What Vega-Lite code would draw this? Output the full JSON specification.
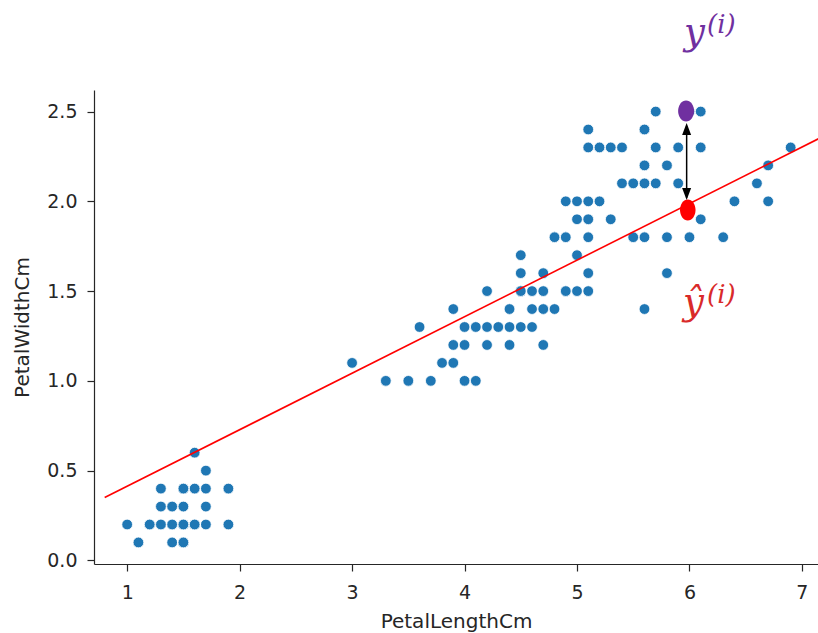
{
  "$schema": "https://vega.github.io/schema/vega-lite/v6.json",
  "width": 724,
  "height": 474,
  "autosize": {"type": "none"},
  "padding": {"left": 94, "top": 90, "right": 0, "bottom": 69},
  "background": "white",
  "config": {
    "view": {"stroke": null},
    "axis": {
      "labelFont": "DejaVu Sans",
      "titleFont": "DejaVu Sans",
      "labelFontSize": 19,
      "titleFontSize": 20,
      "titleFontWeight": "normal",
      "labelColor": "#262626",
      "titleColor": "#262626",
      "domainColor": "#262626",
      "tickColor": "#262626",
      "domainWidth": 1.2,
      "tickWidth": 1.2,
      "tickSize": 7,
      "grid": false
    }
  },
  "datasets": {
    "iris": [
      {"PetalLengthCm":1.4,"PetalWidthCm":0.2},{"PetalLengthCm":1.4,"PetalWidthCm":0.2},{"PetalLengthCm":1.3,"PetalWidthCm":0.2},{"PetalLengthCm":1.5,"PetalWidthCm":0.2},{"PetalLengthCm":1.4,"PetalWidthCm":0.2},
      {"PetalLengthCm":1.7,"PetalWidthCm":0.4},{"PetalLengthCm":1.4,"PetalWidthCm":0.3},{"PetalLengthCm":1.5,"PetalWidthCm":0.2},{"PetalLengthCm":1.4,"PetalWidthCm":0.2},{"PetalLengthCm":1.5,"PetalWidthCm":0.1},
      {"PetalLengthCm":1.5,"PetalWidthCm":0.2},{"PetalLengthCm":1.6,"PetalWidthCm":0.2},{"PetalLengthCm":1.4,"PetalWidthCm":0.1},{"PetalLengthCm":1.1,"PetalWidthCm":0.1},{"PetalLengthCm":1.2,"PetalWidthCm":0.2},
      {"PetalLengthCm":1.5,"PetalWidthCm":0.4},{"PetalLengthCm":1.3,"PetalWidthCm":0.4},{"PetalLengthCm":1.4,"PetalWidthCm":0.3},{"PetalLengthCm":1.7,"PetalWidthCm":0.3},{"PetalLengthCm":1.5,"PetalWidthCm":0.3},
      {"PetalLengthCm":1.7,"PetalWidthCm":0.2},{"PetalLengthCm":1.5,"PetalWidthCm":0.4},{"PetalLengthCm":1.0,"PetalWidthCm":0.2},{"PetalLengthCm":1.7,"PetalWidthCm":0.5},{"PetalLengthCm":1.9,"PetalWidthCm":0.2},
      {"PetalLengthCm":1.6,"PetalWidthCm":0.2},{"PetalLengthCm":1.6,"PetalWidthCm":0.4},{"PetalLengthCm":1.5,"PetalWidthCm":0.2},{"PetalLengthCm":1.4,"PetalWidthCm":0.2},{"PetalLengthCm":1.6,"PetalWidthCm":0.2},
      {"PetalLengthCm":1.6,"PetalWidthCm":0.2},{"PetalLengthCm":1.5,"PetalWidthCm":0.4},{"PetalLengthCm":1.5,"PetalWidthCm":0.1},{"PetalLengthCm":1.4,"PetalWidthCm":0.2},{"PetalLengthCm":1.5,"PetalWidthCm":0.1},
      {"PetalLengthCm":1.2,"PetalWidthCm":0.2},{"PetalLengthCm":1.3,"PetalWidthCm":0.2},{"PetalLengthCm":1.5,"PetalWidthCm":0.1},{"PetalLengthCm":1.3,"PetalWidthCm":0.2},{"PetalLengthCm":1.5,"PetalWidthCm":0.2},
      {"PetalLengthCm":1.3,"PetalWidthCm":0.3},{"PetalLengthCm":1.3,"PetalWidthCm":0.3},{"PetalLengthCm":1.3,"PetalWidthCm":0.2},{"PetalLengthCm":1.6,"PetalWidthCm":0.6},{"PetalLengthCm":1.9,"PetalWidthCm":0.4},
      {"PetalLengthCm":1.4,"PetalWidthCm":0.3},{"PetalLengthCm":1.6,"PetalWidthCm":0.2},{"PetalLengthCm":1.4,"PetalWidthCm":0.2},{"PetalLengthCm":1.5,"PetalWidthCm":0.2},{"PetalLengthCm":1.4,"PetalWidthCm":0.2},
      {"PetalLengthCm":4.7,"PetalWidthCm":1.4},{"PetalLengthCm":4.5,"PetalWidthCm":1.5},{"PetalLengthCm":4.9,"PetalWidthCm":1.5},{"PetalLengthCm":4.0,"PetalWidthCm":1.3},{"PetalLengthCm":4.6,"PetalWidthCm":1.5},
      {"PetalLengthCm":4.5,"PetalWidthCm":1.3},{"PetalLengthCm":4.7,"PetalWidthCm":1.6},{"PetalLengthCm":3.3,"PetalWidthCm":1.0},{"PetalLengthCm":4.6,"PetalWidthCm":1.3},{"PetalLengthCm":3.9,"PetalWidthCm":1.4},
      {"PetalLengthCm":3.5,"PetalWidthCm":1.0},{"PetalLengthCm":4.2,"PetalWidthCm":1.5},{"PetalLengthCm":4.0,"PetalWidthCm":1.0},{"PetalLengthCm":4.7,"PetalWidthCm":1.4},{"PetalLengthCm":3.6,"PetalWidthCm":1.3},
      {"PetalLengthCm":4.4,"PetalWidthCm":1.4},{"PetalLengthCm":4.5,"PetalWidthCm":1.5},{"PetalLengthCm":4.1,"PetalWidthCm":1.0},{"PetalLengthCm":4.5,"PetalWidthCm":1.5},{"PetalLengthCm":3.9,"PetalWidthCm":1.1},
      {"PetalLengthCm":4.8,"PetalWidthCm":1.8},{"PetalLengthCm":4.0,"PetalWidthCm":1.3},{"PetalLengthCm":4.9,"PetalWidthCm":1.5},{"PetalLengthCm":4.7,"PetalWidthCm":1.2},{"PetalLengthCm":4.3,"PetalWidthCm":1.3},
      {"PetalLengthCm":4.4,"PetalWidthCm":1.4},{"PetalLengthCm":4.8,"PetalWidthCm":1.4},{"PetalLengthCm":5.0,"PetalWidthCm":1.7},{"PetalLengthCm":4.5,"PetalWidthCm":1.5},{"PetalLengthCm":3.5,"PetalWidthCm":1.0},
      {"PetalLengthCm":3.8,"PetalWidthCm":1.1},{"PetalLengthCm":3.7,"PetalWidthCm":1.0},{"PetalLengthCm":3.9,"PetalWidthCm":1.2},{"PetalLengthCm":5.1,"PetalWidthCm":1.6},{"PetalLengthCm":4.5,"PetalWidthCm":1.5},
      {"PetalLengthCm":4.5,"PetalWidthCm":1.6},{"PetalLengthCm":4.7,"PetalWidthCm":1.5},{"PetalLengthCm":4.4,"PetalWidthCm":1.3},{"PetalLengthCm":4.1,"PetalWidthCm":1.3},{"PetalLengthCm":4.0,"PetalWidthCm":1.3},
      {"PetalLengthCm":4.4,"PetalWidthCm":1.2},{"PetalLengthCm":4.6,"PetalWidthCm":1.4},{"PetalLengthCm":4.0,"PetalWidthCm":1.2},{"PetalLengthCm":3.3,"PetalWidthCm":1.0},{"PetalLengthCm":4.2,"PetalWidthCm":1.3},
      {"PetalLengthCm":4.2,"PetalWidthCm":1.2},{"PetalLengthCm":4.2,"PetalWidthCm":1.3},{"PetalLengthCm":4.3,"PetalWidthCm":1.3},{"PetalLengthCm":3.0,"PetalWidthCm":1.1},{"PetalLengthCm":4.1,"PetalWidthCm":1.3},
      {"PetalLengthCm":6.0,"PetalWidthCm":2.5},{"PetalLengthCm":5.1,"PetalWidthCm":1.9},{"PetalLengthCm":5.9,"PetalWidthCm":2.1},{"PetalLengthCm":5.6,"PetalWidthCm":1.8},{"PetalLengthCm":5.8,"PetalWidthCm":2.2},
      {"PetalLengthCm":6.6,"PetalWidthCm":2.1},{"PetalLengthCm":4.5,"PetalWidthCm":1.7},{"PetalLengthCm":6.3,"PetalWidthCm":1.8},{"PetalLengthCm":5.8,"PetalWidthCm":1.8},{"PetalLengthCm":6.1,"PetalWidthCm":2.5},
      {"PetalLengthCm":5.1,"PetalWidthCm":2.0},{"PetalLengthCm":5.3,"PetalWidthCm":1.9},{"PetalLengthCm":5.5,"PetalWidthCm":2.1},{"PetalLengthCm":5.0,"PetalWidthCm":2.0},{"PetalLengthCm":5.1,"PetalWidthCm":2.4},
      {"PetalLengthCm":5.3,"PetalWidthCm":2.3},{"PetalLengthCm":5.5,"PetalWidthCm":1.8},{"PetalLengthCm":6.7,"PetalWidthCm":2.2},{"PetalLengthCm":6.9,"PetalWidthCm":2.3},{"PetalLengthCm":5.0,"PetalWidthCm":1.5},
      {"PetalLengthCm":5.7,"PetalWidthCm":2.3},{"PetalLengthCm":4.9,"PetalWidthCm":2.0},{"PetalLengthCm":6.7,"PetalWidthCm":2.0},{"PetalLengthCm":4.9,"PetalWidthCm":1.8},{"PetalLengthCm":5.7,"PetalWidthCm":2.1},
      {"PetalLengthCm":6.0,"PetalWidthCm":1.8},{"PetalLengthCm":4.8,"PetalWidthCm":1.8},{"PetalLengthCm":4.9,"PetalWidthCm":1.8},{"PetalLengthCm":5.6,"PetalWidthCm":2.1},{"PetalLengthCm":5.8,"PetalWidthCm":1.6},
      {"PetalLengthCm":6.1,"PetalWidthCm":1.9},{"PetalLengthCm":6.4,"PetalWidthCm":2.0},{"PetalLengthCm":5.6,"PetalWidthCm":2.2},{"PetalLengthCm":5.1,"PetalWidthCm":1.5},{"PetalLengthCm":5.6,"PetalWidthCm":1.4},
      {"PetalLengthCm":6.1,"PetalWidthCm":2.3},{"PetalLengthCm":5.6,"PetalWidthCm":2.4},{"PetalLengthCm":5.5,"PetalWidthCm":1.8},{"PetalLengthCm":4.8,"PetalWidthCm":1.8},{"PetalLengthCm":5.4,"PetalWidthCm":2.1},
      {"PetalLengthCm":5.6,"PetalWidthCm":2.4},{"PetalLengthCm":5.1,"PetalWidthCm":2.3},{"PetalLengthCm":5.1,"PetalWidthCm":1.9},{"PetalLengthCm":5.9,"PetalWidthCm":2.3},{"PetalLengthCm":5.7,"PetalWidthCm":2.5},
      {"PetalLengthCm":5.2,"PetalWidthCm":2.3},{"PetalLengthCm":5.0,"PetalWidthCm":1.9},{"PetalLengthCm":5.2,"PetalWidthCm":2.0},{"PetalLengthCm":5.4,"PetalWidthCm":2.3},{"PetalLengthCm":5.1,"PetalWidthCm":1.8}
    ]
  },
  "layer": [
    {
      "data": {"name": "iris"},
      "mark": {"type": "point", "filled": true, "color": "#1f77b4", "size": 115, "opacity": 1, "stroke": "white", "strokeWidth": 0.8},
      "encoding": {
        "x": {"field": "PetalLengthCm", "type": "quantitative", "scale": {"domain": [0.705, 7.143], "nice": false, "zero": false},
              "axis": {"title": "PetalLengthCm", "values": [1, 2, 3, 4, 5, 6, 7], "format": "d", "labelFlush": false, "labelPadding": 12, "titlePadding": 9}},
        "y": {"field": "PetalWidthCm", "type": "quantitative", "scale": {"domain": [-0.02, 2.62], "nice": false, "zero": false},
              "axis": {"title": "PetalWidthCm", "values": [0, 0.5, 1, 1.5, 2, 2.5], "format": ".1f", "labelFlush": false, "labelPadding": 10, "titlePadding": 14}}
      }
    },
    {
      "data": {"values": [{"PetalLengthCm": 0.8, "PetalWidthCm": 0.35}, {"PetalLengthCm": 7.2, "PetalWidthCm": 2.365}]},
      "mark": {"type": "line", "color": "#ff0000", "strokeWidth": 1.6, "clip": true},
      "encoding": {
        "x": {"field": "PetalLengthCm", "type": "quantitative"},
        "y": {"field": "PetalWidthCm", "type": "quantitative"}
      }
    },
    {
      "mark": {"type": "rule", "color": "#262626", "strokeWidth": 1.2},
      "encoding": {"y": {"datum": 2.62}}
    },
    {
      "data": {"values": [{"PetalLengthCm": 5.97, "PetalWidthCm": 2.503}]},
      "mark": {"type": "point", "filled": true, "color": "#7030a0", "opacity": 1, "size": 441,
               "shape": "M0.76,0A0.76,1,0,1,1,-0.76,0A0.76,1,0,1,1,0.76,0Z"},
      "encoding": {
        "x": {"field": "PetalLengthCm", "type": "quantitative"},
        "y": {"field": "PetalWidthCm", "type": "quantitative"}
      }
    },
    {
      "data": {"values": [{"PetalLengthCm": 5.985, "PetalWidthCm": 1.952}]},
      "mark": {"type": "point", "filled": true, "color": "#ff0000", "opacity": 1, "size": 441,
               "shape": "M0.74,0A0.74,1,0,1,1,-0.74,0A0.74,1,0,1,1,0.74,0Z"},
      "encoding": {
        "x": {"field": "PetalLengthCm", "type": "quantitative"},
        "y": {"field": "PetalWidthCm", "type": "quantitative"}
      }
    },
    {
      "data": {"values": [{"PetalLengthCm": 5.975, "PetalWidthCm": 2.02, "PetalWidthEnd": 2.42}]},
      "mark": {"type": "rule", "color": "black", "strokeWidth": 1.5},
      "encoding": {
        "x": {"field": "PetalLengthCm", "type": "quantitative"},
        "y": {"field": "PetalWidthCm", "type": "quantitative"},
        "y2": {"field": "PetalWidthEnd"}
      }
    },
    {
      "data": {"values": [{"PetalLengthCm": 5.975, "PetalWidthCm": 2.403, "head": "up"}, {"PetalLengthCm": 5.975, "PetalWidthCm": 2.041, "head": "down"}]},
      "mark": {"type": "point", "filled": true, "color": "black", "opacity": 1, "size": 144},
      "encoding": {
        "x": {"field": "PetalLengthCm", "type": "quantitative"},
        "y": {"field": "PetalWidthCm", "type": "quantitative"},
        "shape": {"field": "head", "type": "nominal", "legend": null,
                  "scale": {"domain": ["up", "down"], "range": ["M0,-1L0.75,1L-0.75,1Z", "M0,1L0.75,-1L-0.75,-1Z"]}}
      }
    },
    {
      "data": {"values": [{"PetalLengthCm": 6.045, "PetalWidthCm": 2.876, "label": "y", "who": "observed"}, {"PetalLengthCm": 6.035, "PetalWidthCm": 1.372, "label": "ŷ", "who": "predicted"}]},
      "mark": {"type": "text", "font": "DejaVu Serif", "fontStyle": "italic", "fontSize": 37, "align": "center", "baseline": "alphabetic"},
      "encoding": {
        "x": {"field": "PetalLengthCm", "type": "quantitative"},
        "y": {"field": "PetalWidthCm", "type": "quantitative"},
        "text": {"field": "label"},
        "color": {"field": "who", "type": "nominal", "legend": null, "scale": {"domain": ["observed", "predicted"], "range": ["#7030a0", "#d92a2a"]}}
      }
    },
    {
      "data": {"values": [{"PetalLengthCm": 6.156, "PetalWidthCm": 2.939, "label": "(i)", "who": "observed"}, {"PetalLengthCm": 6.156, "PetalWidthCm": 1.435, "label": "(i)", "who": "predicted"}]},
      "mark": {"type": "text", "font": "DejaVu Serif", "fontStyle": "italic", "fontSize": 26, "align": "left", "baseline": "alphabetic"},
      "encoding": {
        "x": {"field": "PetalLengthCm", "type": "quantitative"},
        "y": {"field": "PetalWidthCm", "type": "quantitative"},
        "text": {"field": "label"},
        "color": {"field": "who", "type": "nominal", "legend": null}
      }
    }
  ]
}
